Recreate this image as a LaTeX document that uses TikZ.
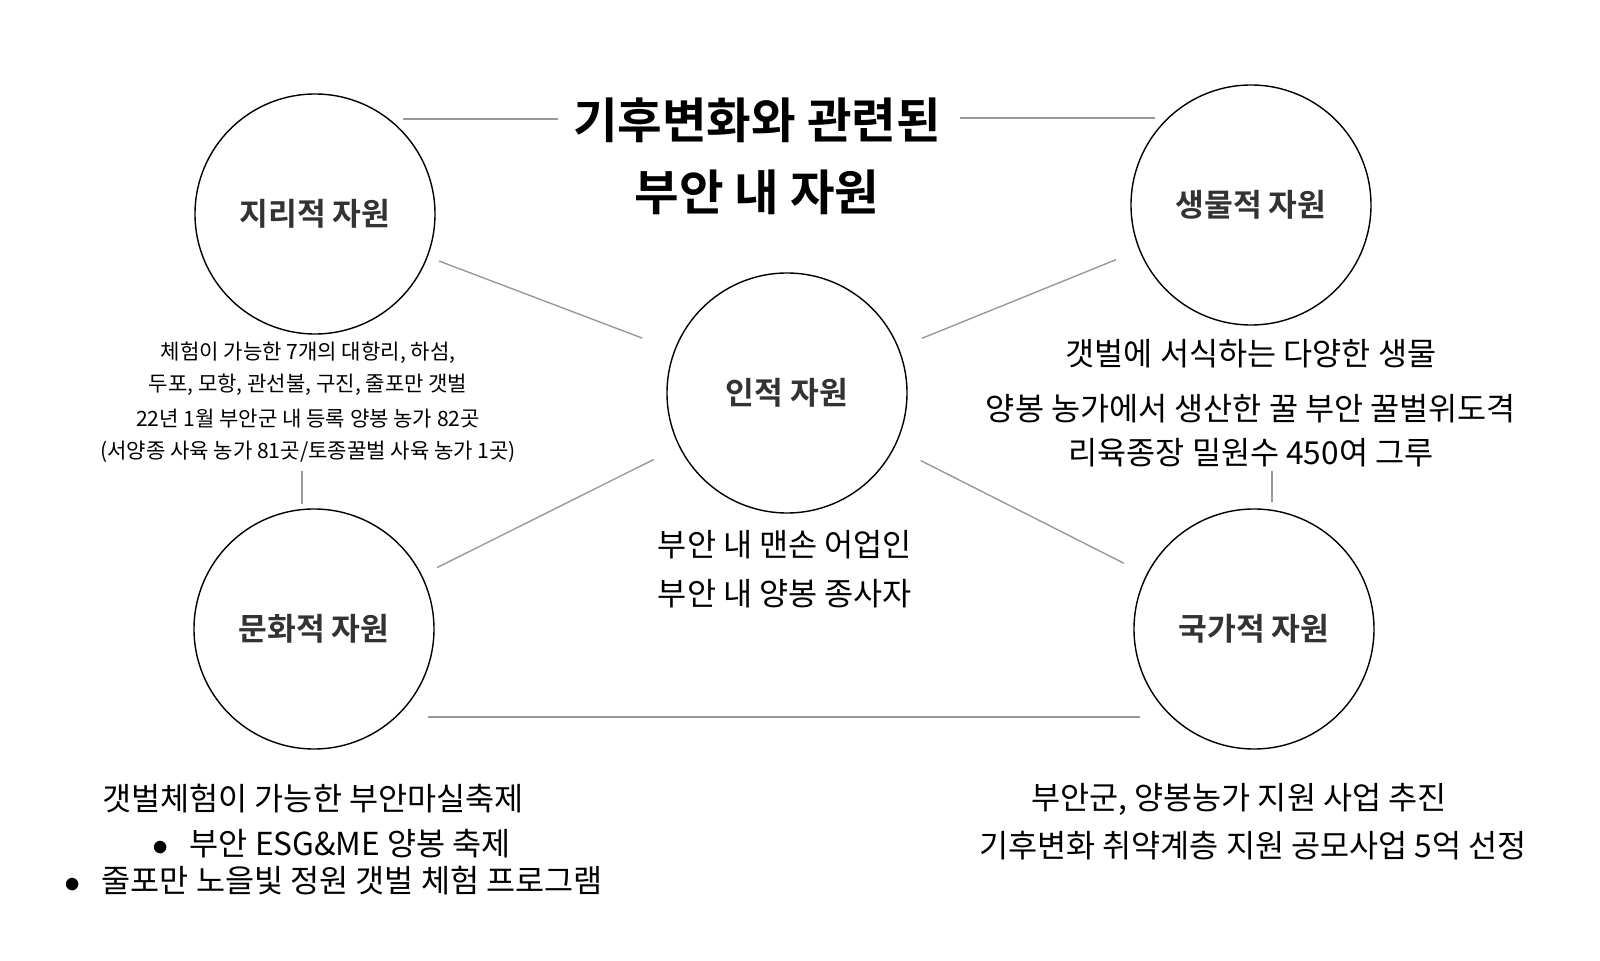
\documentclass[tikz,border=0pt]{standalone}
\usepackage{fontspec}
\setmainfont{Noto Sans CJK KR}
\newfontfamily\krbold{Noto Sans CJK KR Bold}
\usetikzlibrary{positioning}
\definecolor{labelgray}{HTML}{333333}

\begin{document}
\begin{tikzpicture}[x=0.1mm, y=-0.1mm,
    res/.style={circle, draw, minimum size=24mm, inner sep=0pt, text=labelgray, font=\krbold\fontsize{8.9}{11}\selectfont},
    link/.style={draw=gray!80, line width=0.4pt},
    note/.style={align=center, font=\fontsize{6}{9.2}\selectfont},
    info/.style={align=center, font=\fontsize{9}{14}\selectfont}
]
% title
\node[align=center, font=\krbold\fontsize{13.8}{20.5}\selectfont] (title) at (757,156) {기후변화와 관련된\\부안 내 자원};
\coordinate (tl1) at (403,119);
\coordinate (tl2) at (558,119);
\coordinate (tr1) at (960,118);
\coordinate (tr2) at (1155,118);
\draw[link] (tl1) -- (tl2);
\draw[link] (tr1) -- (tr2);

% resources
\node[res] (geo) at (315,214) {지리적 자원};
\node[res] (bio) at (1251,205) {생물적 자원};
\node[res] (hum) at (787,393) {인적 자원};
\node[res] (cul) at (314,629) {문화적 자원};
\node[res] (nat) at (1254,629) {국가적 자원};

% texts
\node[note] (geoa) at (308,369) {체험이 가능한 7개의 대항리, 하섬,\\두포, 모항, 관선불, 구진, 줄포만 갯벌};
\node[note] (geob) at (308,436) {22년 1월 부안군 내 등록 양봉 농가 82곳\\(서양종 사육 농가 81곳/토종꿀벌 사육 농가 1곳)};
\node[info, font=\fontsize{9}{15.5}\selectfont] (bioa) at (1251,403) {갯벌에 서식하는 다양한 생물\\양봉 농가에서 생산한 꿀 부안 꿀벌위도격\\[-3pt]리육종장 밀원수 450여 그루};
\node[info] (huma) at (785,569) {부안 내 맨손 어업인\\부안 내 양봉 종사자};
\node[info] (cula) at (313,799) {갯벌체험이 가능한 부안마실축제};
\node[info, anchor=west] (culb) at (140,844) {$\bullet$\hspace{6pt}부안 ESG\&ME 양봉 축제};
\node[info, anchor=west] (culc) at (52,881) {$\bullet$\hspace{6pt}줄포만 노을빛 정원 갯벌 체험 프로그램};
\node[info] (nata) at (1239,799) {부안군, 양봉농가 지원 사업 추진};
\node[info] (natb) at (1253,846) {기후변화 취약계층 지원 공모사업 5억 선정};

% links
\coordinate (g1) at (302,471);
\coordinate (g2) at (302,504);
\coordinate (b1) at (1272,471);
\coordinate (b2) at (1272,502);
\draw[link] (g1) -- (g2);
\draw[link] (b1) -- (b2);
\draw[link, shorten <=1.2mm, shorten >=3.4mm] (geo) -- (hum);
\draw[link, shorten <=2.5mm, shorten >=2.5mm] (hum) -- (bio);
\draw[link, shorten <=2.8mm, shorten >=1.7mm] (hum) -- (cul);
\draw[link, shorten <=2.9mm, shorten >=2.5mm] (hum) -- (nat);
\coordinate (c1) at (428,717);
\coordinate (c2) at (1140,717);
\draw[link] (c1) -- (c2);

\pgfresetboundingbox
\useasboundingbox (0,0) rectangle (1600,961);
\end{tikzpicture}
\end{document}
